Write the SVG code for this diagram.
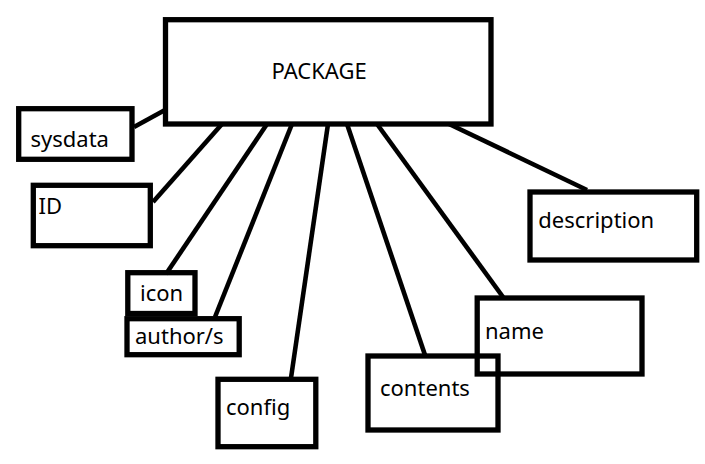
<svg xmlns="http://www.w3.org/2000/svg" width="705" height="464" viewBox="0 0 705 464">
<style>
.box{fill:none;stroke:#000;stroke-width:5.3}
.ln{stroke:#000;stroke-width:4.6;fill:none}
text{font-family:"Noto Sans","Open Sans","Liberation Sans",sans-serif;font-size:22px;fill:#000}
</style>
<rect x="0" y="0" width="705" height="464" fill="#fff"/>
<g id="connectors">
<line class="ln" x1="134" y1="127" x2="165" y2="110"/>
<line class="ln" x1="153" y1="202" x2="222" y2="124"/>
<line class="ln" x1="267" y1="124" x2="166" y2="274"/>
<line class="ln" x1="292" y1="124" x2="215" y2="317"/>
<line class="ln" x1="328" y1="124" x2="291" y2="378"/>
<line class="ln" x1="347" y1="124" x2="425" y2="355"/>
<line class="ln" x1="377" y1="124" x2="503" y2="297"/>
<line class="ln" x1="449" y1="124" x2="587" y2="190"/>
</g>
<g id="package">
<rect class="box" x="165.5" y="19.7" width="325.5" height="104.3"/>
<text x="271.5" y="79.3">PACKAGE</text>
</g>
<g id="sysdata">
<rect class="box" x="18.7" y="108.7" width="113.3" height="50.6"/>
<text x="30.5" y="146.7">sysdata</text>
</g>
<g id="id">
<rect class="box" x="33.3" y="185.3" width="117" height="60.4"/>
<text x="38.5" y="214">ID</text>
</g>
<g id="icon">
<rect class="box" x="127.8" y="272.7" width="67.2" height="40.8"/>
<text x="140" y="300.7">icon</text>
</g>
<g id="authors">
<rect class="box" x="127" y="318.7" width="112.2" height="36"/>
<text x="135" y="344.3">author/s</text>
</g>
<g id="config">
<rect class="box" x="218" y="379.3" width="97.8" height="67.4"/>
<text x="226" y="415">config</text>
</g>
<g id="contents">
<rect class="box" x="368" y="356" width="130" height="74"/>
<text x="380" y="396">contents</text>
</g>
<g id="name">
<rect class="box" x="477.2" y="298" width="164.8" height="76"/>
<text x="485" y="339.3">name</text>
</g>
<g id="description">
<rect class="box" x="530" y="192" width="166.7" height="68"/>
<text x="538.3" y="228.3">description</text>
</g>
</svg>
